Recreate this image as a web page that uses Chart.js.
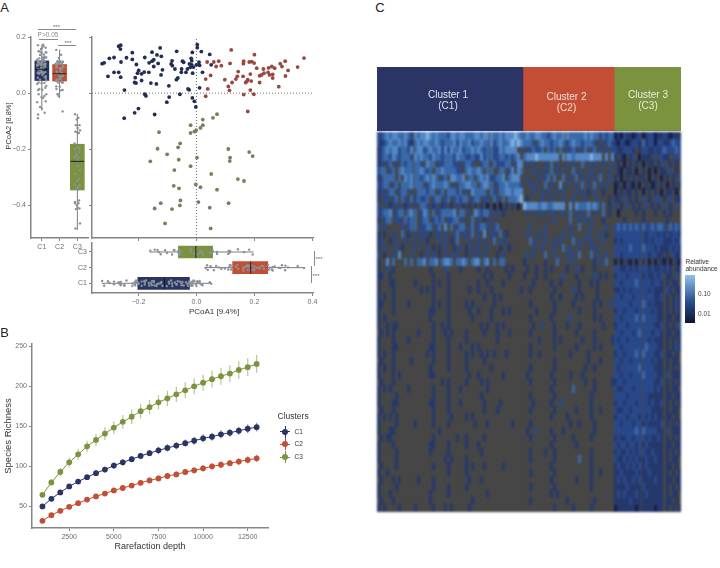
<!DOCTYPE html>
<html>
<head>
<meta charset="utf-8">
<style>
html, body { margin: 0; padding: 0; background: #fff; }
#page { position: relative; width: 720px; height: 568px; overflow: hidden; font-family: "Liberation Sans", sans-serif; }
canvas { position: absolute; }
.lbl { position: absolute; white-space: nowrap; line-height: 1; }
.rule { position: absolute; background: #8a8a8a; }
</style>
<script src="https://cdn.jsdelivr.net/npm/chart.js@4"></script>
</head>
<body>
<div id="page"></div>
<script>
const clusters = ['C1', 'C2', 'C3'];
const clusterColor = ['#2b3565', '#c44e33', '#7b933f'];
const dotColor = ['#232c54', '#98483f', '#767f5c'];

// panel A, PCoA coordinates
const c1X = [-0.261,-0.268,-0.262,-0.325,-0.318,-0.300,-0.284,-0.260,-0.241,-0.221,-0.221,-0.207,-0.305,-0.284,-0.268,-0.261,-0.248,-0.211,-0.203,-0.199,-0.180,-0.189,-0.164,-0.189,-0.213,-0.208,-0.157,-0.138,-0.178,-0.153,-0.136,-0.125,-0.121,-0.163,-0.153,-0.147,-0.132,-0.147,-0.117,-0.122,-0.095,-0.068,-0.087,-0.084,-0.083,-0.074,-0.064,-0.069,-0.052,-0.048,-0.044,-0.051,-0.036,-0.031,-0.024,-0.018,-0.016,-0.014,-0.016,-0.010,-0.021,0,0.003,0.003,0.017,0.009,0.011,-0.013,0.021,0.046,0.051,0.011,-0.029,-0.025,-0.057,-0.178,-0.174,-0.094,-0.102,-0.014,-0.007,-0.002,-0.200,-0.213,-0.144,-0.249];
const c1Y = [0.171,0.167,0.157,0.105,0.108,0.124,0.127,0.111,0.126,0.144,0.120,0.102,0.060,0.074,0.074,0.057,0.011,0.055,0.071,0.081,0.075,0.069,0.074,0.045,0.038,0.036,0.036,0.033,0.127,0.146,0.136,0.161,0.131,0.108,0.114,0.119,0.106,0.095,0.083,0.065,0.026,0.149,0.104,0.115,0.098,0.086,0.054,0.048,0.074,0.114,0.110,0.086,0.074,0.086,0.104,0.124,0.115,0.145,0.101,0.093,0.092,0.101,0.173,0.162,0.148,0.110,0.099,0.071,0.074,0.138,0.101,0.019,0.015,0.012,-0.004,-0.004,-0.010,-0.014,-0.032,-0.017,-0.029,-0.049,-0.055,-0.070,-0.076,-0.089];
const c2X = [0.120,0.200,0.371,0.037,0.060,0.077,0.068,0.086,0.116,0.163,0.162,0.182,0.191,0.199,0.208,0.231,0.249,0.260,0.270,0.289,0.295,0.306,0.316,0.349,0.144,0.141,0.161,0.186,0.136,0.123,0.098,0.032,0.049,0.039,0.110,0.114,0.163,0.186,0.198,0.218,0.225,0.233,0.247,0.252,0.263,0.263,0.307,0.218,0.284,0.170,0.177,0.189,0.174,0.032,0.177];
const c2Y = [0.154,0.137,0.125,0.111,0.111,0.114,0.095,0.098,0.106,0.114,0.105,0.111,0.112,0.107,0.089,0.086,0.090,0.095,0.089,0.105,0.095,0.114,0.081,0.093,0.077,0.060,0.060,0.068,0.050,0.038,0.048,0.050,0.063,0.015,0.024,0.010,-0.005,0.011,-0.004,0.062,0.065,0.071,0.074,0.065,0.067,0.054,0.061,0.038,0.023,0.038,0.048,0.043,0.042,-0.011,-0.065];
const c3X = [0.071,0.057,0.022,-0.020,0.022,0.014,-0.001,-0.007,-0.020,-0.129,-0.056,-0.063,-0.134,-0.101,-0.061,-0.159,0.002,0.110,0.116,0.115,0.182,0.194,-0.020,-0.076,0.051,0.143,0.164,-0.002,0.014,-0.078,-0.060,0.071,-0.055,-0.123,0.007,0.111,-0.057,-0.144,-0.084,0.046,-0.108,0.049];
const c3Y = [-0.075,-0.088,-0.094,-0.114,-0.114,-0.124,-0.132,-0.137,-0.142,-0.139,-0.179,-0.193,-0.198,-0.218,-0.237,-0.243,-0.230,-0.199,-0.230,-0.242,-0.210,-0.224,-0.260,-0.274,-0.288,-0.306,-0.313,-0.325,-0.335,-0.330,-0.339,-0.344,-0.382,-0.392,-0.388,-0.392,-0.400,-0.411,-0.413,-0.408,-0.464,-0.482];

// box summaries, C1 C2 C3
const yQ1 = [0.045, 0.043, -0.345], yMed = [0.085, 0.069, -0.243], yQ3 = [0.115, 0.102, -0.182];
const yLow = [-0.062, -0.018, -0.488], yHigh = [0.173, 0.155, -0.074];
const xQ1 = [-0.202, 0.125, -0.062], xMed = [-0.110, 0.187, -0.002], xQ3 = [-0.024, 0.246, 0.056];
const xLow = [-0.326, 0.030, -0.162], xHigh = [0.053, 0.375, 0.197];
const strip = [-0.22,0.1,-0.05,0.2,-0.14,0.03,0.25,-0.18,0.14,-0.02,-0.26,0.07,0.22,-0.1,0.01,0.16,-0.21];
const stripSpread = [1, 0.85, 0.6];
const stripY = [-0.12,0.07,-0.03,0.15,-0.16,0.02,0.11,-0.08,0.18,-0.01,-0.18,0.05,0.13,-0.06,0,0.09,-0.14];
const pcoa1Ticks = [-0.2, 0, 0.2, 0.4];
const pcoa2Ticks = [0.2, 0, -0.2, -0.4];

// panel B, rarefaction
const depth = [1000,1500,2000,2500,3000,3500,4000,4500,5000,5500,6000,6500,7000,7500,8000,8500,9000,9500,10000,10500,11000,11500,12000,12500,13000];
const richC1 = [50,59.5,67.5,75,81,86.5,91.5,96,101,105,109,113,116.5,120,123,126,129,132,135,137,140,142,144.5,147,149];
const richC2 = [32,39,44.5,49.5,54,58.5,62.5,66,70,73,76,79.5,82.5,85,88,90,93,95,97.5,100,102,104,106,108,110];
const richC3 = [64.5,80,93,105,115,125,133,141,148.5,155.6,162,169,174,180,185,190,195,200,204.6,209,212.6,216,220.5,224,228];
const errC1 = [2,2.5,3,3,3,3.5,3.5,3.5,4,4,4,4,4,4.5,4.5,4.5,4.5,5,5,5,5,5,5,5.5,5.5];
const errC2 = [2,2,2.5,2.5,2.5,3,3,3,3,3,3,3.5,3.5,3.5,3.5,3.5,4,4,4,4,4,4,4.5,4.5,4.5];
const errC3 = [3,4,5,6,7,7,7.5,8,8,8.5,9,9,9,9,9.5,9.5,10,10,10,10.5,10.5,10.5,11,11,11];
const depthTicks = [2500, 5000, 7500, 10000, 12500];
const richTicks = [50, 100, 150, 200, 250];

// panel C, one char per sample, . is zero abundance
const clusterCols = [48, 30, 22];
const heatColors = ['#151d45', '#25386c', '#29488a', '#3a69a8', '#5488c6', '#84b3e0'];
const heatC1 = [
"334545544543545565454443554554445545554454555654",
"323454454532454554454344453544534454453454456565",
"2345455344354553454453535445344545434433545555",
"23443543444354544354434443544334335344334434345",
"23.34.3.4344443.544.3344433.3443..344.433344.355",
"344.34.45444445434.445444433.454454.44..44.35.54",
"234444.4.54544345454.34.55445.44.454533445.4555",
"3344.34.4445444.34544454.3.445544.4554.344544443",
"23.344.344.3.444344.34.44434.3.54444.43.44554555",
"2.33.34.43.434334.344.34.34344.344.33.43.4.44456",
"3.3.23.3.23.3.443.23.23.2.3.2.2.2.2.1.1.1.2.2.1",
"33445.344.454.354.4.344445.44.3.543443.3.2.....",
"2.344.33.4344.344.3434.3344.3..4.3.2.3.........",
"3.3.....3.344.3344.34.5.4.344.34.3443.34.......",
"2.2..3..4.2.3.33.2.33.3..34.33.4.3.5.33.4.2....",
"23..2.3..3.3..3.2...3.3.2.4...3..3.3..4.3.3....",
"2.3...3.2...3...3.2.2.3..2.3.2.3.3..3...2..2...",
"3.2..3.5...3..2.3.3.2.3.3.3..2.3.3.3...2.3.....",
"2..5.4...4.4.445.445.4554.4454.455.45.4.44......",
"2..3.2...........2....3....2.....2..2.....2.2...",
"22..2.............2....2...........2.2.....2....",
"2...22......2.....2.2..2.........2..2....2......",
"2....2........2.2.2....2......2..2...2.........2",
"2.2..2............2....2...........2..2.2.......",
"22...2....2.......2.2..2.....2.2......2.........",
"2....2...........22....2......2..2...2...2.2....",
"2.2..............2.....2.......2.....2..........",
"2..2.22...........2..2.2..........2.2..2.2......",
".2.2.2.......2....2...2.2....2.....2...2...2....",
"2....2....2.......2....2.....2.........2........",
"2....22..........22....2...2...2.2..............",
"2.2..2..........2.2....2.....2.2..2.2.2...2.....",
".2...2.....2......2....2.....2.....2............",
"2.2..2...........2.....2.....2.......2..........",
"2....2.2.........22...........2..2.......2......",
".2...2...............2.2.....2....2.2...........",
"2.2.2.....2.......2....2...2........2...........",
"2.....2...........2....2..........2.............",
"2....22..........22....2...2.......2....2.......",
".2...2............2....2...........2...2........",
"2.2.2.2...........2.....2....2.2................",
"2.....2.....2.....2....2........2...2.......2...",
"2...22..............2...........................",
".2.22.............2.......2..2.....2............",
"2....2...........22....2.....2...2..............",
"2.....2..........2.....2..........2.............",
"2.....2...............2.2....2..................",
".2....2...........2....2.....2.2...2.....2......",
"2..2...................2.....2..................",
".2...2.2.....2....2...........2...2.............",
"2.....2...........2....2.....2..................",
"2...2............2.....2............2...........",
".2...2...........2.............2................",
"2.2....2....2.....2...2.2.....2.................",
];
const heatC2 = [
"454455443454455444445454434344",
"4443.4544344543454434443.3.343",
"3.34334.434.4.3343.34.34.3.3.3",
"455565555555.5554555556555.5.5",
".3.3...3.4.3..3.3..4.3.3..3..3",
"...3.3.3.4.3.3..4.3...3..3..3.",
".3...3.34.4..4.3.4.3.3.3.4..3.",
"..3.3..4.3..5.3..3.4.3.4.3.3..",
"...3..3.3..3.3...3.3.2.3..2...",
".2....3..3...3..3...3...3...2.",
"65555455445555.5.54445454.4.2.",
".3..3.3.3.3..3.4.3.3.4..3.4.2.",
"..........3....4..3.3.3...2...",
"..3....3.......3..4...3....3..",
".3...3.3.....3.3.....3...3.2..",
"..4.3..3..3.3...4.3.3.3...3...",
"...3..3...3..4.3..3...3.3.....",
".3.3...4..3...3.3.4...4.3..3..",
"2......2...4...3.......2.3.4..",
".2..2..2.2....2..3.2...2......",
"2...2..2.....3...2.....3.2.2..",
"...2.....2..2.....2...2.2.....",
"..2.......2.....3.2.....2.....",
".........2..2....2.2....2.....",
"..2.......2.....2......2.2..3.",
"....2.....2.......2....2......",
"..2......2.....3.......2.2....",
"...2..3...2...2...2.......2...",
"..2.......2......2.....2......",
".....2....2.2......2...2.....2",
"..2.......2......2.....2.2....",
"..2..2.........2.....2........",
"..........2..........2...2....",
"..2.......2.........2..2......",
".2.......2.....2...2..........",
"..2.......2.........2..2.....2",
".........2......4......2......",
"..2.......2...........2.......",
"...2.....2..3.........2.......",
"..2.......2......2....2..2....",
".........2....2.......2.......",
"..2............2..2....2......",
".2..3....2...2.........2......",
"..2.......2.....2.....2.......",
".........2.......2............",
"..2....2..2...........2.......",
"..2.......2.......4...2.......",
".........2............2.......",
"..2.......2...........2..2....",
".........2.......2....2.......",
"..2.......2...........2.......",
".........2.2..................",
"..2...........2........2......",
"..........2.....2.....2.......",
];
const heatC3 = [
"1213221231233122321222",
"2132123324233133223433",
"3223332.23322323433343",
"2.21.23.1222.3.322.3.3",
".2.1.2.2.1.22.2.3.2.2.",
".21.22.1.2.1.1.22.3.2.",
"2.1.2.2.22.1.2.1.2.2.3",
"12.1.21.1.2.12.2.1.2.2",
"1.2.22.2.1.2.2.1.22.1.",
"22.3.2.2.3.2.33.2.3.22",
"3.2.3.2.2.3.2.2.3.2.3.",
".1.....2.2...2..2.2...",
"...2.....2.......2....",
"34343434343343443.4343",
"3333333333233323232332",
"2323333333232333222323",
"3333343334333232223232",
"3323333333323322.2.322",
"1.1.21.1.2.1.1.21.1.21",
"3322323233323223232.22",
"2333233332322323.22.3.",
"3323333433332332.2.22.",
"2232323333323222.32.22",
"3323332333333223.2.2.2",
"3333323334323222.2.232",
"2332333233332322.2.2.2",
"3323333434333322.22.22",
"2333233333333223.2.2.3",
"3323332343332332.22.22",
"3233233333323222.2.2.2",
"3323333333433322.2.232",
"2332333434333223.22.2.",
"3323323333332322.2.22.",
"3233333343333222.2.2.2",
"3323323334333322.3.222",
"2332333333333223.2.2.2",
"3223332333333232.2.22.",
"3333233333322222.22.22",
"2332333233323223.2.2.2",
"3223323333332222.2.22.",
"2333233323232322.22.2.",
"3323332332322223.2.2.2",
"3333333434333322.3.222",
"2322332333232232.2.2.2",
"3233233232322222.22.22",
"2322323233223222.2.2.2",
"3223232322322322.2.22.",
"2322323232322222.22.2.",
"2232222322232222.2.2.2",
"2323223232222322.22.22",
"2222322223222222.2.2.2",
"2323222322322222.2.22.",
"2222232222222222.22.2.",
"1222222122222122.2.2.2",
];
const heatLegendColors = ['#0f1532', '#8fc2e8'];
const legendEnds = [0.0036, 0.955];
const legendTicks = [0.1, 0.01];

const AXIS = '#858585', TXT = '#6e6e6e';
const page = document.getElementById('page');
Chart.defaults.animation = false;
Chart.defaults.responsive = false;
Chart.defaults.layout.autoPadding = false;
Chart.defaults.font.family = '"Liberation Sans", sans-serif';
Chart.defaults.plugins.legend.display = false;
Chart.defaults.plugins.tooltip.enabled = false;
Chart.defaults.events = [];

function canvasAt(left, top, w, h) {
    const c = document.createElement('canvas');
    c.width = w; c.height = h;
    c.style.left = left + 'px'; c.style.top = top + 'px';
    page.appendChild(c);
    return c.getContext('2d');
}

function label(text, x, y, size, color, opts) {
    opts = opts || {};
    const d = document.createElement('div');
    d.className = 'lbl';
    d.textContent = text;
    d.style.left = x + 'px'; d.style.top = y + 'px';
    d.style.fontSize = size + 'px'; d.style.color = color;
    const ax = opts.left ? '0' : '-50%';
    d.style.transform = 'translate(' + ax + ',-50%)' + (opts.rot ? ' rotate(-90deg)' : '');
    page.appendChild(d);
}

function rule(x, y, w, h) {
    const d = document.createElement('div');
    d.className = 'rule';
    d.style.cssText += 'left:' + x + 'px;top:' + y + 'px;width:' + w + 'px;height:' + h + 'px';
    page.appendChild(d);
}

// keeps the plot box where it was measured, whatever the labels want
function axis(size, min, max, ticks, show, fmt, extra) {
    return Object.assign({
        type: 'linear', min, max, offset: false,
        afterBuildTicks(s) { s.ticks = ticks.map(value => ({ value })); },
        afterFit(s) {
            if (s.isHorizontal()) s.height = size; else s.width = size;
            s.paddingLeft = s.paddingRight = s.paddingTop = s.paddingBottom = 0;
        },
        grid: { drawOnChartArea: false, drawTicks: true, tickLength: 3, color: AXIS, offset: false },
        border: { color: AXIS, width: 1.5 },
        ticks: { display: show, autoSkip: false, maxRotation: 0, padding: 2, color: TXT, font: { size: 7 }, callback: fmt }
    }, extra || {});
}

const oneDec = v => v.toFixed(1).replace('-', '\u2212');
const clusterName = v => clusters[v - 1];

function segment(pts, color, width, order, dash) {
    return { type: 'scatter', showLine: true, data: pts, borderColor: color, borderWidth: width, pointRadius: 0, order, borderDash: dash || [], spanGaps: false, clip: false };
}

// panel A, box plot of PCoA2
const stripSetsY = [c1Y, c2Y, c3Y].map((v, i) => ({
    type: 'scatter', order: 1, pointRadius: 1.2, borderWidth: 0, backgroundColor: '#8a9198',
    data: v.map((y, j) => ({ x: i + 1 + strip[j % strip.length] * stripSpread[i], y }))
}));
new Chart(canvasAt(2, 29, 95, 225), {
    type: 'bar',
    data: {
        datasets: [
            { type: 'bar', order: 2, barThickness: 14, borderWidth: 0, backgroundColor: clusterColor, data: clusters.map((c, i) => ({ x: i + 1, y: [yQ1[i], yQ3[i]] })) },
            ...stripSetsY,
            ...clusters.map((c, i) => segment([{ x: i + 1, y: yLow[i] }, { x: i + 1, y: yHigh[i] }], '#7b7b7b', 1, 3)),
            ...clusters.map((c, i) => segment([{ x: i + 0.62, y: yMed[i] }, { x: i + 1.38, y: yMed[i] }], '#1c1c1c', 1, 0))
        ]
    },
    options: {
        layout: { padding: { top: 8, right: 9 } },
        scales: {
            x: axis(16, 0.39, 3.6, [1, 2, 3], true, clusterName),
            y: axis(29, -0.516, 0.2, pcoa2Ticks, true, oneDec)
        }
    }
});

// panel A, scatter
const xMin = -0.36, xMax = 0.402;
new Chart(canvasAt(88, 29, 243, 213), {
    type: 'scatter',
    data: {
        datasets: [
            segment([{ x: xMin, y: 0 }, { x: xMax, y: 0 }], '#6a6a6a', 1, 3, [1, 2]),
            segment([{ x: 0, y: -0.516 }, { x: 0, y: 0.2 }], '#6a6a6a', 1, 3, [1, 2]),
            ...[[c1X, c1Y], [c2X, c2Y], [c3X, c3Y]].map((v, i) => ({
                order: 1, pointRadius: 1.9, borderWidth: 0, backgroundColor: dotColor[i],
                data: v[0].map((x, j) => ({ x, y: v[1][j] }))
            }))
        ]
    },
    options: {
        layout: { padding: { top: 8, right: 18 } },
        scales: {
            x: axis(4, xMin, xMax, pcoa1Ticks, false),
            y: axis(4, -0.516, 0.2, pcoa2Ticks, false)
        }
    }
});

// panel A, box plot of PCoA1
const stripSetsX = [c1X, c2X, c3X].map((v, i) => ({
    type: 'scatter', order: 1, pointRadius: 1.2, borderWidth: 0, backgroundColor: '#8a9198',
    data: v.map((x, j) => ({ x, y: i + 1 + stripY[j % stripY.length] }))
}));
new Chart(canvasAt(72, 238, 255, 68), {
    type: 'bar',
    data: {
        datasets: [
            { type: 'bar', indexAxis: 'y', order: 2, barThickness: 12, borderWidth: 0, backgroundColor: clusterColor, data: clusters.map((c, i) => ({ x: [xQ1[i], xQ3[i]], y: i + 1 })) },
            ...stripSetsX,
            ...clusters.map((c, i) => segment([{ x: xLow[i], y: i + 1 }, { x: xHigh[i], y: i + 1 }], '#7b7b7b', 1, 3)),
            ...clusters.map((c, i) => segment([{ x: xMed[i], y: i + 0.62 }, { x: xMed[i], y: i + 1.38 }], '#1c1c1c', 1, 0))
        ]
    },
    options: {
        layout: { padding: { top: 5, right: 14 } },
        scales: {
            x: axis(13, xMin, xMax, pcoa1Ticks, true, oneDec),
            y: axis(20, 0.38, 3.575, [1, 2, 3], true, clusterName)
        }
    }
});

// panel B
const richSets = [richC1, richC2, richC3], errSets = [errC1, errC2, errC3];
const errAlpha = ['#2b356588', '#c44e3388', '#7b933f88'];
new Chart(canvasAt(3, 336, 280, 216), {
    type: 'scatter',
    data: {
        datasets: [
            ...richSets.map((r, i) => ({
                showLine: true, order: 1, borderColor: clusterColor[i], borderWidth: 1,
                backgroundColor: clusterColor[i], pointRadius: 2.9, pointBorderWidth: 0,
                data: depth.map((x, j) => ({ x, y: r[j] }))
            })),
            ...richSets.map((r, i) => segment(
                depth.flatMap((x, j) => [{ x, y: r[j] - errSets[i][j] }, { x, y: r[j] + errSets[i][j] }, { x, y: NaN }]),
                errAlpha[i], 1.2, 2))
        ]
    },
    options: {
        layout: { padding: { top: 8, right: 15 } },
        scales: {
            x: axis(24, 415, 13636, depthTicks, true, v => String(v), {
                title: { display: true, text: 'Rarefaction depth', color: '#333', font: { size: 9 }, padding: 0 }
            }),
            y: axis(29, 23, 252.9, richTicks, true, v => String(v), {
                title: { display: true, text: 'Species Richness', color: '#333', font: { size: 9.5 }, padding: 0 }
            })
        }
    }
});

// panel C, header band
new Chart(canvasAt(377, 67, 304, 64), {
    type: 'bar',
    data: {
        labels: ['Clusters'],
        datasets: clusterCols.map((n, i) => ({ data: [n], backgroundColor: clusterColor[i], borderWidth: 0 }))
    },
    options: {
        indexAxis: 'y',
        layout: { padding: 0 },
        datasets: { bar: { barPercentage: 1, categoryPercentage: 1 } },
        scales: {
            x: { display: false, stacked: true, min: 0, max: 100 },
            y: { display: false, stacked: true }
        }
    }
});

// panel C, heatmap cells
function cellSprite(color) {
    const s = document.createElement('canvas');
    s.width = 3; s.height = 8;
    const g = s.getContext('2d');
    g.fillStyle = color;
    g.fillRect(0, 0, 3, 8);
    return s;
}
const heatBlocks = [heatC1, heatC2, heatC3];
const heatSets = heatColors.map((color, k) => {
    const data = [];
    let start = 0;
    heatBlocks.forEach((rows, b) => {
        rows.forEach((row, r) => {
            for (let c = 0; c < row.length && c < clusterCols[b]; c++) {
                if (row[c] === String(k + 1)) data.push({ x: start + c + 0.5, y: r + 0.5 });
            }
        });
        start += clusterCols[b];
    });
    return { data, pointStyle: cellSprite(color), pointRadius: 3, borderWidth: 0, order: 6 - k };
});
const heatCtx = canvasAt(377, 132, 304, 380);
heatCtx.canvas.style.filter = 'blur(0.8px)';
new Chart(heatCtx, {
    type: 'scatter',
    data: { datasets: heatSets },
    options: {
        layout: { padding: 0 },
        scales: {
            x: { display: false, min: 0, max: 100 },
            y: { display: false, min: 0, max: heatC1.length, reverse: true }
        }
    },
    plugins: [{
        id: 'zeroFill',
        beforeDatasetsDraw(chart) {
            const a = chart.chartArea;
            chart.ctx.fillStyle = '#454645';
            chart.ctx.fillRect(a.left, a.top, a.width, a.height);
        }
    }]
});

// panel C, colour bar
new Chart(canvasAt(685, 270, 32, 58), {
    type: 'bar',
    data: {
        labels: ['abundance'],
        datasets: [{
            data: [legendEnds],
            borderWidth: 0,
            barPercentage: 1,
            categoryPercentage: 1,
            backgroundColor(ctx) {
                const a = ctx.chart.chartArea;
                if (!a) return heatLegendColors[0];
                const g = ctx.chart.ctx.createLinearGradient(0, a.bottom, 0, a.top);
                g.addColorStop(0, heatLegendColors[0]);
                g.addColorStop(0.45, '#2a4f8e');
                g.addColorStop(1, heatLegendColors[1]);
                return g;
            }
        }]
    },
    options: {
        layout: { padding: { top: 5, bottom: 5 } },
        scales: {
            x: { display: false },
            y: {
                type: 'logarithmic', position: 'right', min: legendEnds[0], max: legendEnds[1],
                afterBuildTicks(s) { s.ticks = legendTicks.map(value => ({ value })); },
                afterFit(s) { s.width = 22; s.paddingTop = s.paddingBottom = 0; },
                grid: { drawOnChartArea: false, drawTicks: false },
                border: { display: false },
                ticks: { padding: 3, color: '#444', font: { size: 6.5 }, callback: v => v.toFixed(2) }
            }
        }
    }
});

// legend of panel B
label('Clusters', 277.5, 416, 8.5, '#333', { left: true });
clusters.forEach((c, i) => {
    const y = 431.7 + i * 12.65;
    const key = document.createElement('div');
    key.style.cssText = 'position:absolute;left:280px;top:' + (y - 6) + 'px;width:10px;height:12px';
    key.innerHTML =
        '<div style="position:absolute;left:0;top:5.5px;width:10px;height:1px;background:' + clusterColor[i] + '"></div>' +
        '<div style="position:absolute;left:4.5px;top:0;width:1px;height:12px;background:' + clusterColor[i] + '"></div>' +
        '<div style="position:absolute;left:2px;top:3px;width:6px;height:6px;border-radius:3px;background:' + clusterColor[i] + '"></div>';
    page.appendChild(key);
    label(c, 294.5, y, 6.5, '#333', { left: true });
});

// annotations
label('A', 4.5, 7, 13, '#222');
label('B', 4.5, 332, 13, '#222');
label('C', 380, 7, 13, '#222');
label('PCoA2 [8.8%]', 8.5, 126, 7.5, '#333', { rot: true });
label('PCoA1 [9.4%]', 214, 311.5, 8, '#333');
rule(38, 29, 38, 1);
rule(39, 39, 19, 1);
rule(58, 45, 18, 1);
label('P>0.05', 48, 35, 6.5, '#8a8a8a');
label('***', 56.5, 27, 6, '#666');
label('***', 68, 43, 6, '#666');
rule(314, 251, 1, 15);
rule(310.5, 266, 1, 17);
label('***', 319, 259, 6, '#666');
label('***', 316, 276, 6, '#666');

label('Cluster 1', 448, 95, 10, '#dde2ec');
label('(C1)', 448, 106, 10, '#dde2ec');
label('Cluster 2', 566.5, 97, 10, '#f3ddd6');
label('(C2)', 566.5, 108, 10, '#f3ddd6');
label('Cluster 3', 648, 95, 10, '#e6ecd6');
label('(C3)', 648, 106, 10, '#e6ecd6');

label('Relative', 685.5, 261.5, 6.5, '#333', { left: true });
label('abundance', 685.5, 269, 6.5, '#333', { left: true });
</script>
</body>
</html>
